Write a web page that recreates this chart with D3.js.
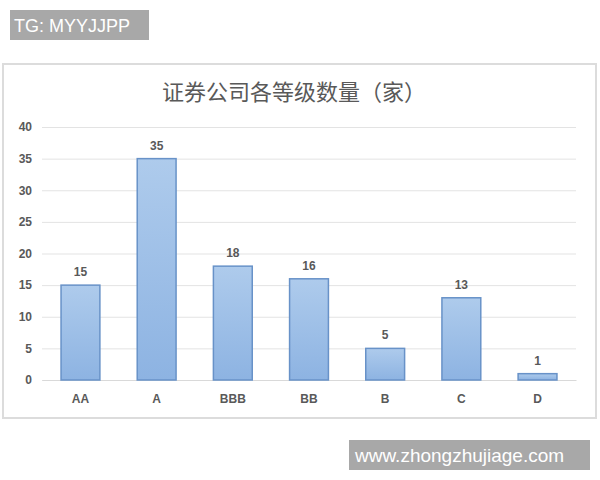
<!DOCTYPE html>
<html lang="zh">
<head>
<meta charset="utf-8">
<title>证券公司各等级数量</title>
<script src="https://cdn.jsdelivr.net/npm/d3@7"></script>
<style>
  body { margin: 0; background: #fff; }
  svg { display: block; }
</style>
</head>
<body>
<script>
// data
var categories = ["AA", "A", "BBB", "BB", "B", "C", "D"];
var counts = [15, 35, 18, 16, 5, 13, 1];
var yTicks = [0, 5, 10, 15, 20, 25, 30, 35, 40];
var title = "证券公司各等级数量（家）";

var w = 600, h = 480;
var svg = d3.select("body").append("svg")
  .attr("width", w)
  .attr("height", h);

// gradient for the bars
var grad = svg.append("defs").append("linearGradient")
  .attr("id", "barGrad")
  .attr("x1", 0).attr("y1", 0).attr("x2", 0).attr("y2", 1);
grad.append("stop").attr("offset", "0%").attr("stop-color", "#aecbec");
grad.append("stop").attr("offset", "100%").attr("stop-color", "#8db3e2");

// watermark top left
svg.append("rect")
  .attr("x", 10).attr("y", 10).attr("width", 139).attr("height", 30)
  .attr("fill", "#a8a8a8");
svg.append("text")
  .attr("x", 14).attr("y", 32)
  .attr("font-family", "Liberation Sans, Arial, sans-serif")
  .attr("font-size", "18px")
  .attr("fill", "#fff")
  .text("TG: MYYJJPP");

// chart frame
svg.append("rect")
  .attr("x", 3).attr("y", 64).attr("width", 593).attr("height", 354)
  .attr("fill", "#fff")
  .attr("stroke", "#dcdcdc")
  .attr("stroke-width", 2);

// title
svg.append("text")
  .attr("x", 294).attr("y", 100)
  .attr("text-anchor", "middle")
  .attr("font-family", "Noto Sans CJK SC, sans-serif")
  .attr("font-size", "22px")
  .attr("fill", "#595959")
  .text(title);

// scales
var xScale = d3.scaleBand()
  .domain(categories)
  .range([42, 576])
  .paddingInner(0.49)
  .paddingOuter(0.25);

var yScale = d3.scaleLinear()
  .domain([0, 40])
  .range([380, 127]);

// gridlines
var yAxis = d3.axisLeft(yScale)
  .tickValues(yTicks)
  .tickSize(-(576 - 42))
  .tickPadding(10);

var yG = svg.append("g")
  .attr("transform", "translate(42,0)")
  .call(yAxis);
yG.select(".domain").remove();
yG.selectAll(".tick line")
  .attr("stroke", "#e3e3e3")
  .attr("stroke-width", 1);
yG.selectAll(".tick text")
  .attr("font-family", "Liberation Sans, Arial, sans-serif")
  .attr("font-size", "12px")
  .attr("font-weight", "bold")
  .attr("fill", "#595959");

// x axis labels
var xAxis = d3.axisBottom(xScale).tickSize(0).tickPadding(14);
var xG = svg.append("g")
  .attr("transform", "translate(0,380)")
  .call(xAxis);
xG.select(".domain").attr("stroke", "#d9d9d9");
xG.selectAll(".tick text")
  .attr("font-family", "Liberation Sans, Arial, sans-serif")
  .attr("font-size", "12px")
  .attr("font-weight", "bold")
  .attr("fill", "#595959");

// bars
svg.selectAll("rect.bar")
  .data(counts)
  .enter()
  .append("rect")
  .attr("class", "bar")
  .attr("x", function(d, i) { return xScale(categories[i]); })
  .attr("y", function(d) { return yScale(d); })
  .attr("width", xScale.bandwidth())
  .attr("height", function(d) { return yScale(0) - yScale(d); })
  .attr("fill", "url(#barGrad)")
  .attr("stroke", "#6892c8")
  .attr("stroke-width", 1.5);

// value labels
svg.selectAll("text.val")
  .data(counts)
  .enter()
  .append("text")
  .attr("class", "val")
  .attr("x", function(d, i) { return xScale(categories[i]) + xScale.bandwidth() / 2; })
  .attr("y", function(d) { return yScale(d) - 9; })
  .attr("text-anchor", "middle")
  .attr("font-family", "Liberation Sans, Arial, sans-serif")
  .attr("font-size", "12px")
  .attr("font-weight", "bold")
  .attr("fill", "#595959")
  .text(function(d) { return d; });

// watermark bottom right
svg.append("rect")
  .attr("x", 349).attr("y", 440).attr("width", 241).attr("height", 30)
  .attr("fill", "#a8a8a8");
svg.append("text")
  .attr("x", 355).attr("y", 462)
  .attr("font-family", "Liberation Sans, Arial, sans-serif")
  .attr("font-size", "19px")
  .attr("fill", "#fff")
  .text("www.zhongzhujiage.com");
</script>
</body>
</html>
